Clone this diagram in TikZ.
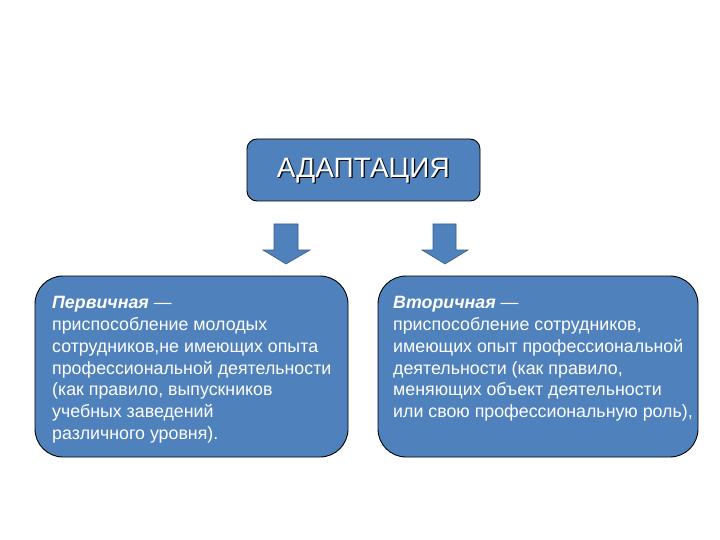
\documentclass[tikz,border=0pt]{standalone}
\usepackage{fontspec}
\setmainfont{Liberation Sans}
\definecolor{boxblue}{RGB}{79,129,189}
\tikzset{
  bluebox/.style={draw=black, line width=0.9pt, fill=boxblue},
  blockarrow/.style={draw=boxblue!70!black, line width=0.6pt, fill=boxblue},
  bodytext/.style={anchor=north west, align=left, text=white, inner sep=0pt,
    font=\fontsize{17.8}{21.7}\selectfont}
}
\begin{document}
\begin{tikzpicture}[x=1pt,y=-1pt]
\useasboundingbox (0,0) rectangle (720,540);
% top box
\draw[bluebox, rounded corners=10pt] (247,139) rectangle (480,201);
\node[text=black, font=\fontsize{28}{30}\selectfont] (titleshadow) at (364.5,172) {АДАПТАЦИЯ};
\node[text=white, font=\fontsize{28}{30}\selectfont] (title) at (363.3,170.8) {АДАПТАЦИЯ};
% block arrows
\draw[blockarrow] (274,224) -- (298,224) -- (298,250) -- (310,250) -- (286,264) -- (263,250) -- (274,250) -- cycle;
\draw[blockarrow] (433,224) -- (456,224) -- (456,250) -- (468,250) -- (445,264) -- (422,250) -- (433,250) -- cycle;
% lower boxes
\draw[bluebox, rounded corners=28pt] (35,276) rectangle (348,457);
\draw[bluebox, rounded corners=28pt] (378,276) rectangle (698,457);
\node[bodytext] (left) at (52,296.5) {\textbf{\textit{Первичная}} —\\
приспособление молодых\\
сотрудников,не имеющих опыта\\
профессиональной деятельности\\
(как правило, выпускников\\
учебных заведений\\
различного уровня).};
\node[bodytext] (right) at (393,296.5) {\textbf{\textit{Вторичная}} —\\
приспособление сотрудников,\\
имеющих опыт профессиональной\\
деятельности (как правило,\\
меняющих объект деятельности\\
или свою профессиональную роль),};
\end{tikzpicture}
\end{document}
